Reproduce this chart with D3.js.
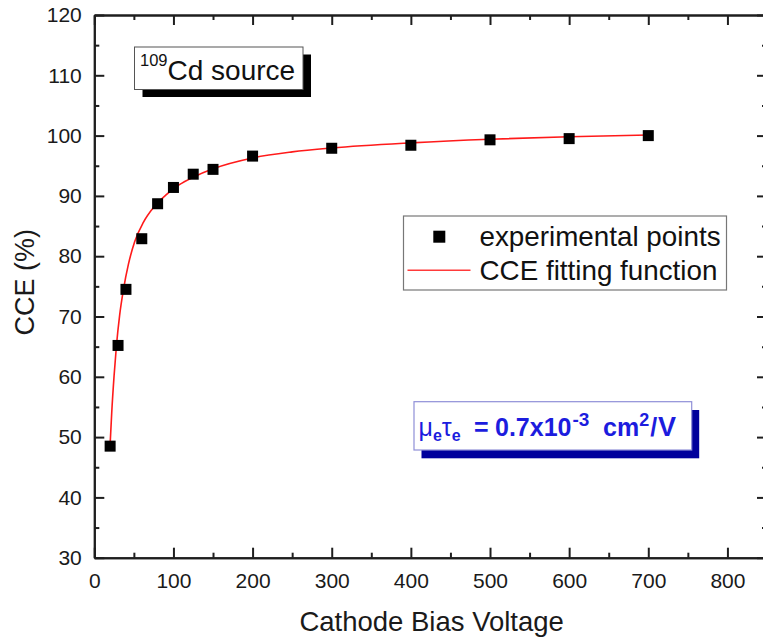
<!DOCTYPE html>
<html>
<head>
<meta charset="utf-8">
<script src="https://cdn.jsdelivr.net/npm/d3@7/dist/d3.min.js"></script>
<style>
  html, body { margin: 0; padding: 0; background: #fff; }
  svg { display: block; font-family: "Liberation Sans", Arial, sans-serif; }
</style>
</head>
<body>
<svg id="chart" width="763" height="641"></svg>
<script>
// Measured charge collection efficiency vs. cathode bias
const voltages = [20, 30, 40, 60, 80, 100, 125, 150, 200, 300, 400, 500, 600, 700];
const cceMeasured = [48.5, 65.2, 74.5, 82.9, 88.7, 91.4, 93.6, 94.4, 96.6, 97.9, 98.4, 99.3, 99.5, 100.0];

// Fitted CCE curve, sampled along the voltage range
const fitVoltages = [20, 22, 25, 28, 32, 37, 43, 51, 62, 75, 91, 108, 125, 150, 200, 250, 300, 400, 500, 600, 700];
const fitCCE = [48.8, 54.0, 60.2, 65.2, 70.2, 74.6, 78.6, 82.4, 85.6, 88.1, 90.2, 91.9, 93.1, 94.5, 96.3, 97.3, 97.95, 98.8, 99.4, 99.8, 100.1];

// Axis ticks
const xMajorTicks = [0, 100, 200, 300, 400, 500, 600, 700, 800];
const xMinorTicks = [50, 150, 250, 350, 450, 550, 650, 750];
const yMajorTicks = [30, 40, 50, 60, 70, 80, 90, 100, 110, 120];
const yMinorTicks = [35, 45, 55, 65, 75, 85, 95, 105, 115];

const legendLabels = ["experimental points", "CCE fitting function"];

const svg = d3.select("#chart");
const plotLeft = 94.3, plotRight = 767, plotTop = 15, plotBottom = 557.7;

const x = d3.scaleLinear().domain([0, 850]).range([plotLeft, plotRight]);
const y = d3.scaleLinear().domain([30, 120]).range([plotBottom, plotTop]);

const axisColor = "#1e1e1e";

function styleAxis(g, hideLabels) {
  g.select(".domain").attr("stroke", axisColor).attr("stroke-width", 2);
  g.selectAll(".tick line").attr("stroke", axisColor).attr("stroke-width", 2);
  g.selectAll(".tick text")
    .attr("fill", "#1a1a1a")
    .style("font-size", "21px")
    .style("font-family", "'Liberation Sans', Arial, sans-serif");
  if (hideLabels) g.selectAll(".tick text").remove();
}

// Bottom axis: inward ticks, labels below
svg.append("g").attr("transform", `translate(0,${plotBottom})`)
  .call(d3.axisBottom(x).tickValues(xMinorTicks).tickSize(-5).tickSizeOuter(0).tickFormat(""))
  .call(g => styleAxis(g, true));
svg.append("g").attr("transform", `translate(0,${plotBottom})`)
  .call(d3.axisBottom(x).tickValues(xMajorTicks).tickSize(-10).tickSizeOuter(0).tickPadding(15).tickFormat(d3.format("d")))
  .call(g => styleAxis(g, false));

// Top axis: ticks only
svg.append("g").attr("transform", `translate(0,${plotTop})`)
  .call(d3.axisTop(x).tickValues(xMinorTicks).tickSize(-5).tickSizeOuter(0).tickFormat(""))
  .call(g => styleAxis(g, true));
svg.append("g").attr("transform", `translate(0,${plotTop})`)
  .call(d3.axisTop(x).tickValues(xMajorTicks).tickSize(-10).tickSizeOuter(0).tickFormat(""))
  .call(g => styleAxis(g, true));

// Left axis: inward ticks, labels to the left
svg.append("g").attr("transform", `translate(${plotLeft},0)`)
  .call(d3.axisLeft(y).tickValues(yMinorTicks).tickSize(-5).tickSizeOuter(0).tickFormat(""))
  .call(g => styleAxis(g, true));
svg.append("g").attr("transform", `translate(${plotLeft},0)`)
  .call(d3.axisLeft(y).tickValues(yMajorTicks).tickSize(-10).tickSizeOuter(0).tickPadding(12.5).tickFormat(d3.format("d")))
  .call(g => styleAxis(g, false));

// Right axis: ticks only
svg.append("g").attr("transform", `translate(${plotRight},0)`)
  .call(d3.axisRight(y).tickValues(yMinorTicks).tickSize(-5).tickSizeOuter(0).tickFormat(""))
  .call(g => styleAxis(g, true));
svg.append("g").attr("transform", `translate(${plotRight},0)`)
  .call(d3.axisRight(y).tickValues(yMajorTicks).tickSize(-10).tickSizeOuter(0).tickFormat(""))
  .call(g => styleAxis(g, true));

// Axis titles
svg.append("text")
  .attr("x", (plotLeft + plotRight) / 2 + 1).attr("y", 631)
  .attr("text-anchor", "middle")
  .attr("fill", "#1a1a1a")
  .style("font-size", "27.5px")
  .text("Cathode Bias Voltage");

svg.append("text")
  .attr("transform", `translate(34,${(plotTop + plotBottom) / 2 - 4}) rotate(-90)`)
  .attr("text-anchor", "middle")
  .attr("fill", "#1a1a1a")
  .style("font-size", "27px")
  .text("CCE (%)");

// Fit curve
const fitData = fitVoltages.map((v, i) => [v, fitCCE[i]]);
svg.append("path")
  .datum(fitData)
  .attr("fill", "none")
  .attr("stroke", "#ff1a1a")
  .attr("stroke-width", 1.6)
  .attr("d", d3.line().x(d => x(d[0])).y(d => y(d[1])).curve(d3.curveMonotoneX));

// Measured points
const markerSize = 11;
svg.append("g").selectAll("rect")
  .data(voltages.map((v, i) => [v, cceMeasured[i]]))
  .join("rect")
  .attr("x", d => x(d[0]) - markerSize / 2)
  .attr("y", d => y(d[1]) - markerSize / 2)
  .attr("width", markerSize)
  .attr("height", markerSize)
  .attr("fill", "#000");

// Source label box with drop shadow
const srcBox = { x: 134.5, y: 47, w: 168.5, h: 42.5 };
svg.append("rect")
  .attr("x", srcBox.x + 8).attr("y", srcBox.y + 7.5)
  .attr("width", srcBox.w).attr("height", srcBox.h)
  .attr("fill", "#000");
svg.append("rect")
  .attr("x", srcBox.x).attr("y", srcBox.y)
  .attr("width", srcBox.w).attr("height", srcBox.h)
  .attr("fill", "#fff").attr("stroke", "#555").attr("stroke-width", 1);
const srcText = svg.append("text")
  .attr("x", srcBox.x + 5.5).attr("y", 80)
  .attr("fill", "#111");
srcText.append("tspan").style("font-size", "16.5px").attr("dy", -14).text("109");
srcText.append("tspan").style("font-size", "28px").attr("dy", 14).text("Cd source");

// Legend
const lg = { x: 403.5, y: 216, w: 323, h: 74 };
svg.append("rect")
  .attr("x", lg.x).attr("y", lg.y).attr("width", lg.w).attr("height", lg.h)
  .attr("fill", "#fff").attr("stroke", "#777").attr("stroke-width", 1.2);
svg.append("rect")
  .attr("x", 439.3 - 6).attr("y", 236.7 - 6).attr("width", 12).attr("height", 12)
  .attr("fill", "#000");
svg.append("line")
  .attr("x1", 407.5).attr("x2", 470.5).attr("y1", 270.3).attr("y2", 270.3)
  .attr("stroke", "#ff3a3a").attr("stroke-width", 1.6);
svg.selectAll(".legend-label")
  .data(legendLabels)
  .join("text")
  .attr("class", "legend-label")
  .attr("x", 479.5)
  .attr("y", (d, i) => 246 + i * 34)
  .attr("fill", "#111")
  .style("font-size", "27.8px")
  .text(d => d);

// Mobility-lifetime annotation box
const mt = { x: 414, y: 401.7, w: 277.7, h: 48.3 };
const blue = "#1c1cde";
svg.append("rect")
  .attr("x", mt.x + 7.5).attr("y", mt.y + 8.3)
  .attr("width", mt.w).attr("height", mt.h)
  .attr("fill", "#00009c");
svg.append("rect")
  .attr("x", mt.x).attr("y", mt.y).attr("width", mt.w).attr("height", mt.h)
  .attr("fill", "#fff").attr("stroke", "#8f8fd8").attr("stroke-width", 1.2);
const base = 435.5;
const mtText = svg.append("text")
  .attr("x", 418.5).attr("y", base)
  .attr("fill", blue)
  .style("font-size", "25px")
  .style("font-weight", "bold");
mtText.append("tspan").attr("y", base).style("font-weight", "normal").text("μ");
mtText.append("tspan").attr("y", base + 5).style("font-size", "16px").text("e");
mtText.append("tspan").attr("y", base).style("font-weight", "normal").text("τ");
mtText.append("tspan").attr("y", base + 5).style("font-size", "16px").text("e");
mtText.append("tspan").attr("x", 474).attr("y", base).text("=");
mtText.append("tspan").attr("x", 495).attr("y", base).text("0.7x10");
mtText.append("tspan").attr("dx", 1).attr("y", base - 10).style("font-size", "19px").text("-3");
mtText.append("tspan").attr("x", 603).attr("y", base).text("cm");
mtText.append("tspan").attr("y", base - 10).style("font-size", "18px").text("2");
mtText.append("tspan").attr("dx", 1).attr("y", base).text("/");
mtText.append("tspan").attr("dx", 1).attr("y", base).style("font-size", "27px").text("V");
</script>
</body>
</html>
